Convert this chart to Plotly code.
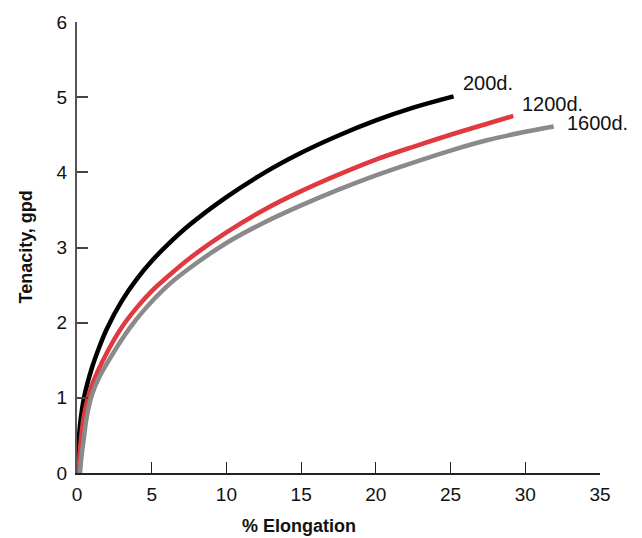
import plotly.graph_objects as go

# ---- data ----
x_ticks = [0, 5, 10, 15, 20, 25, 30, 35]
y_ticks = [0, 1, 2, 3, 4, 5, 6]

series_names = ["200d.", "1200d.", "1600d."]

elong_200 = [0, 0.1, 0.25, 0.5, 1, 1.5, 2, 3, 4, 5, 6, 7.5, 10, 12.5, 15, 17.5, 20, 22.5, 25.2]
ten_200 = [0, 0.4, 0.72, 1.03, 1.4, 1.68, 1.92, 2.29, 2.58, 2.82, 3.025, 3.295, 3.67, 3.99, 4.26, 4.49, 4.69, 4.86, 5.01]

elong_1200 = [0.1, 0.25, 0.5, 1, 2, 3, 4, 5, 6, 7.5, 10, 12.5, 15, 17.5, 20, 22.5, 25, 27.5, 29.2]
ten_1200 = [0, 0.42, 0.8, 1.17, 1.6, 1.94, 2.2, 2.42, 2.6, 2.85, 3.2, 3.5, 3.75, 3.97, 4.17, 4.34, 4.5, 4.65, 4.75]

elong_1600 = [0.2, 0.3, 0.45, 0.65, 1, 1.5, 2.5, 3.5, 4.5, 6, 7.5, 10, 12.5, 15, 17.5, 20, 22.5, 25, 27.5, 30, 31.9]
ten_1600 = [0, 0.22, 0.45, 0.74, 1.04, 1.28, 1.62, 1.92, 2.17, 2.48, 2.72, 3.06, 3.33, 3.56, 3.77, 3.96, 4.13, 4.29, 4.43, 4.54, 4.61]

# ---- styles ----
FONT = "Liberation Sans, Arial, sans-serif"
colors = ["#000000", "#e0393f", "#8a8a8a"]
label_shift = [(7, 13), (7, 12), (11, 3)]

xs = [elong_200, elong_1200, elong_1600]
ys = [ten_200, ten_1200, ten_1600]

fig = go.Figure()
for name, x, y, c in zip(series_names, xs, ys, colors):
    fig.add_trace(go.Scatter(
        x=x, y=y, mode="lines", name=name,
        line=dict(color=c, width=4.5, shape="spline", smoothing=1.0),
        showlegend=False, hoverinfo="skip",
    ))

annotations = []
for name, x, y, (dx, dy) in zip(series_names, xs, ys, label_shift):
    annotations.append(dict(
        x=x[-1], y=y[-1], xref="x", yref="y", text=name, showarrow=False,
        xanchor="left", yanchor="middle", xshift=dx, yshift=dy,
        font=dict(family=FONT, size=20, color="#111111"),
    ))

annotations.append(dict(
    x=0.424, y=0, xref="paper", yref="paper", text="<b>% Elongation</b>",
    showarrow=False, xanchor="center", yanchor="middle", yshift=-53,
    font=dict(family=FONT, size=18, color="#111111"),
))
annotations.append(dict(
    x=0, y=0.5, xref="paper", yref="paper", text="<b>Tenacity, gpd</b>",
    showarrow=False, xanchor="center", yanchor="middle", xshift=-52, textangle=-90,
    font=dict(family=FONT, size=18, color="#111111"),
))

fig.update_layout(
    width=642, height=538,
    margin=dict(l=77, r=42, t=18, b=65),
    paper_bgcolor="white", plot_bgcolor="white",
    font=dict(family=FONT, size=19, color="#111111"),
    annotations=annotations,
    xaxis=dict(
        range=[0, 35], tickvals=x_ticks, ticktext=[str(v) for v in x_ticks],
        showgrid=False, zeroline=False,
        showline=True, linecolor="#222222", linewidth=1.5,
        ticks="inside", ticklen=11, tickwidth=1.3, tickcolor="#222222",
        ticklabelstandoff=3,
        tickfont=dict(family=FONT, size=19, color="#111111"),
    ),
    yaxis=dict(
        range=[0, 6], tickvals=y_ticks, ticktext=[str(v) for v in y_ticks],
        showgrid=False, zeroline=False,
        showline=True, linecolor="#555555", linewidth=2,
        ticks="inside", ticklen=11, tickwidth=1.5, tickcolor="#444444",
        ticklabelstandoff=4,
        tickfont=dict(family=FONT, size=19, color="#111111"),
    ),
)

fig.write_html(
    "out.html",
    config={"displayModeBar": False},
    post_script="document.body.style.margin='0px';document.body.style.overflow='hidden';",
)
